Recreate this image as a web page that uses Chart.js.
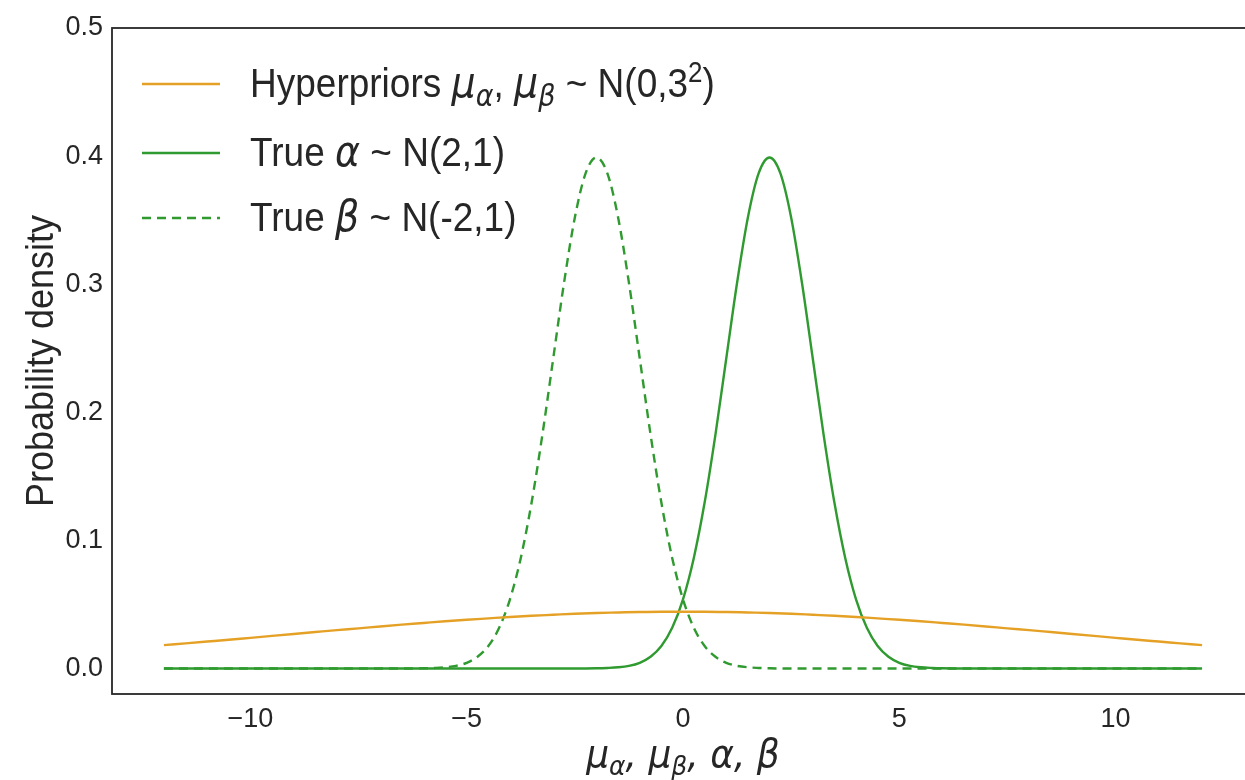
<!DOCTYPE html>
<html>
<head>
<meta charset="utf-8">
<script src="https://cdn.jsdelivr.net/npm/chart.js@4.4.1/dist/chart.umd.min.js"></script>
<style>
html,body{margin:0;padding:0;background:#fff;overflow:hidden;width:1245px;height:780px;}
#wrap{width:1260px;height:780px;}
</style>
</head>
<body>
<div id="wrap"><canvas id="c" width="1260" height="780"></canvas></div>
<script>
// ---- data ----
const xHyper = [-12,-11.5,-11,-10.5,-10,-9.5,-9,-8.5,-8,-7.5,-7,-6.5,-6,-5.5,-5,-4.5,-4,-3.5,-3,-2.5,-2,-1.5,-1,-0.5,0,0.5,1,1.5,2,2.5,3,3.5,4,4.5,5,5.5,6,6.5,7,7.5,8,8.5,9,9.5,10,10.5,11,11.5,12];
const hyperprior = [0.0182,0.0196,0.0210,0.0224,0.0239,0.0254,0.0269,0.0284,0.0299,0.0313,0.0328,0.0342,0.0355,0.0368,0.0380,0.0391,0.0402,0.0411,0.0419,0.0427,0.0433,0.0437,0.0441,0.0443,0.0443,
                    0.0443,0.0441,0.0437,0.0433,0.0427,0.0419,0.0411,0.0402,0.0391,0.0380,0.0368,0.0355,0.0342,0.0328,0.0313,0.0299,0.0284,0.0269,0.0254,0.0239,0.0224,0.0210,0.0196,0.0182];
const xTrue = [-12,-10,-8,
  -6.5,-6.25,-6,-5.75,-5.5,-5.25,-5,-4.75,-4.5,-4.25,-4,-3.75,-3.5,-3.25,-3,-2.75,-2.5,-2.25,-2,-1.75,-1.5,-1.25,-1,-0.75,-0.5,-0.25,
  0,0.25,0.5,0.75,1,1.25,1.5,1.75,2,2.25,2.5,2.75,3,3.25,3.5,3.75,4,4.25,4.5,4.75,5,5.25,5.5,5.75,6,6.25,6.5,
  8,10,12];
const trueAlpha = [0,0,0,0,0,0,0,0,0,0,0,0,0,0,0,0,0,0,0,0,0,
  0.0001,0.0004,0.0009,0.0020,0.0044,0.0091,0.0175,0.0317,0.0540,0.0863,0.1295,0.1826,0.2420,0.3011,0.3521,0.3867,0.3989,
  0.3867,0.3521,0.3011,0.2420,0.1826,0.1295,0.0863,0.0540,0.0317,0.0175,0.0091,0.0044,0.0020,0.0009,0.0004,0.0001,
  0,0,0,0,0];
const trueBeta = [0,0,0,0,0,
  0.0001,0.0004,0.0009,0.0020,0.0044,0.0091,0.0175,0.0317,0.0540,0.0863,0.1295,0.1826,0.2420,0.3011,0.3521,0.3867,0.3989,
  0.3867,0.3521,0.3011,0.2420,0.1826,0.1295,0.0863,0.0540,0.0317,0.0175,0.0091,0.0044,0.0020,0.0009,0.0004,0.0001,
  0,0,0,0,0,0,0,0,0,0,0,0,0,0,0,0,0,0,0,0,0];
const xTicks = [-10,-5,0,5,10];
const xTickLabels = ['\u221210','\u22125','0','5','10'];
const yTicks = [0,0.1,0.2,0.3,0.4,0.5];
const yTickLabels = ['0.0','0.1','0.2','0.3','0.4','0.5'];
const legendRows = [
  [['Hyperpriors ','r'],['\u03bc','i'],['\u03b1','sub'],[', ','r'],['\u03bc','i'],['\u03b2','sub'],[' ~ N(0,3','r'],['2','sup'],[')','r']],
  [['True ','r'],['\u03b1','i'],[' ~ N(2,1)','r']],
  [['True ','r'],['\u03b2','i'],[' ~ N(-2,1)','r']]
];
const xTitle = [['\u03bc','i'],['\u03b1','sub'],[', ','i'],['\u03bc','i'],['\u03b2','sub'],[', ','i'],['\u03b1','i'],[', ','i'],['\u03b2','i']];
const yTitle = 'Probability density';

const ORANGE = '#e5a126', GREEN = '#2f9a2f', TXT = '#262626';
const pts = (xs, arr) => xs.map((x,i)=>({x:x,y:arr[i]}));

function drawRich(ctx, segs, x, y, size, align, vscale){
  const fontFor = (k)=>{
    if(k==='r') return `${size}px "Liberation Sans"`;
    if(k==='i') return `italic ${Math.round(size*1.04)}px "DejaVu Sans"`;
    if(k==='sub') return `italic ${Math.round(size*0.72)}px "DejaVu Sans"`;
    if(k==='sup') return `${Math.round(size*0.7)}px "Liberation Sans"`;
  };
  let total = 0;
  segs.forEach(s=>{ctx.font=fontFor(s[1]); total+=ctx.measureText(s[0]).width;});
  ctx.save();
  ctx.translate(align==='center' ? x-total/2 : x, y);
  ctx.scale(1, vscale||1);
  let cx = 0;
  ctx.textBaseline='alphabetic';
  ctx.textAlign='left';
  segs.forEach(s=>{
    ctx.font=fontFor(s[1]);
    let dy = 0;
    if(s[1]==='sub') dy = size*0.22;
    if(s[1]==='sup') dy = -size*0.38;
    ctx.fillText(s[0], cx, dy);
    cx += ctx.measureText(s[0]).width;
  });
  ctx.restore();
}

const decor = {
  id:'decor',
  afterDraw(chart){
    const ctx = chart.ctx, a = chart.chartArea;
    ctx.save();
    ctx.strokeStyle = TXT; ctx.lineWidth = 1.8;
    ctx.strokeRect(a.left, a.top, a.right-a.left, a.bottom-a.top);
    ctx.fillStyle = TXT;
    // legend
    const rowsY = [84,153,218];
    rowsY.forEach((ry,i)=>{
      const ds = chart.data.datasets[i];
      ctx.beginPath();
      ctx.strokeStyle = ds.borderColor; ctx.lineWidth = ds.borderWidth;
      ctx.setLineDash(ds.borderDash||[]);
      ctx.moveTo(142, ry); ctx.lineTo(220, ry); ctx.stroke();
      ctx.setLineDash([]);
      ctx.fillStyle = TXT;
      drawRich(ctx, legendRows[i], 250, ry+13, 37, 'left', 1.1);
    });
    // x title
    drawRich(ctx, xTitle, (a.left+a.right)/2, 767, 35, 'center', 1.08);
    // y title
    ctx.save();
    ctx.translate(53, (a.top+a.bottom)/2);
    ctx.rotate(-Math.PI/2);
    ctx.scale(1, 1.08);
    ctx.font = '36px "Liberation Sans"';
    ctx.textAlign='center'; ctx.textBaseline='alphabetic';
    ctx.fillText(yTitle, 0, 0);
    ctx.restore();
    ctx.restore();
  }
};

new Chart(document.getElementById('c'), {
  type:'line',
  data:{datasets:[
    {label:'Hyperpriors', data:pts(xHyper, hyperprior), borderColor:ORANGE, borderWidth:2.4, pointRadius:0, cubicInterpolationMode:'monotone', fill:false},
    {label:'True alpha', data:pts(xTrue, trueAlpha), borderColor:GREEN, borderWidth:2.4, pointRadius:0, cubicInterpolationMode:'monotone', fill:false},
    {label:'True beta', data:pts(xTrue, trueBeta), borderColor:GREEN, borderWidth:2.4, borderDash:[9,6], pointRadius:0, cubicInterpolationMode:'monotone', fill:false}
  ]},
  options:{
    responsive:false, animation:false, devicePixelRatio:1,
    layout:{padding:{top:28,right:6,left:0,bottom:0}},
    plugins:{legend:{display:false}, tooltip:{enabled:false}},
    scales:{
      x:{type:'linear', min:-13.2, max:13.2,
        afterFit(s){s.height=86;},
        afterBuildTicks(s){s.ticks = xTicks.map(v=>({value:v}));},
        grid:{display:false, drawTicks:false}, border:{display:false},
        ticks:{padding:9, color:TXT, font:{family:'Liberation Sans', size:27}, maxRotation:0,
          callback:(v)=>{const i=xTicks.indexOf(v); return i>=0?xTickLabels[i]:'';}}
      },
      y:{type:'linear', min:-0.01995, max:0.5,
        afterFit(s){s.width=112;},
        afterBuildTicks(s){s.ticks = yTicks.map(v=>({value:v}));},
        grid:{display:false, drawTicks:false}, border:{display:false},
        ticks:{padding:9, color:TXT, font:{family:'Liberation Sans', size:27},
          callback:(v)=>{const i=yTicks.findIndex(t=>Math.abs(t-v)<1e-9); return i>=0?yTickLabels[i]:'';}}
      }
    }
  },
  plugins:[decor]
});
</script>
</body>
</html>
